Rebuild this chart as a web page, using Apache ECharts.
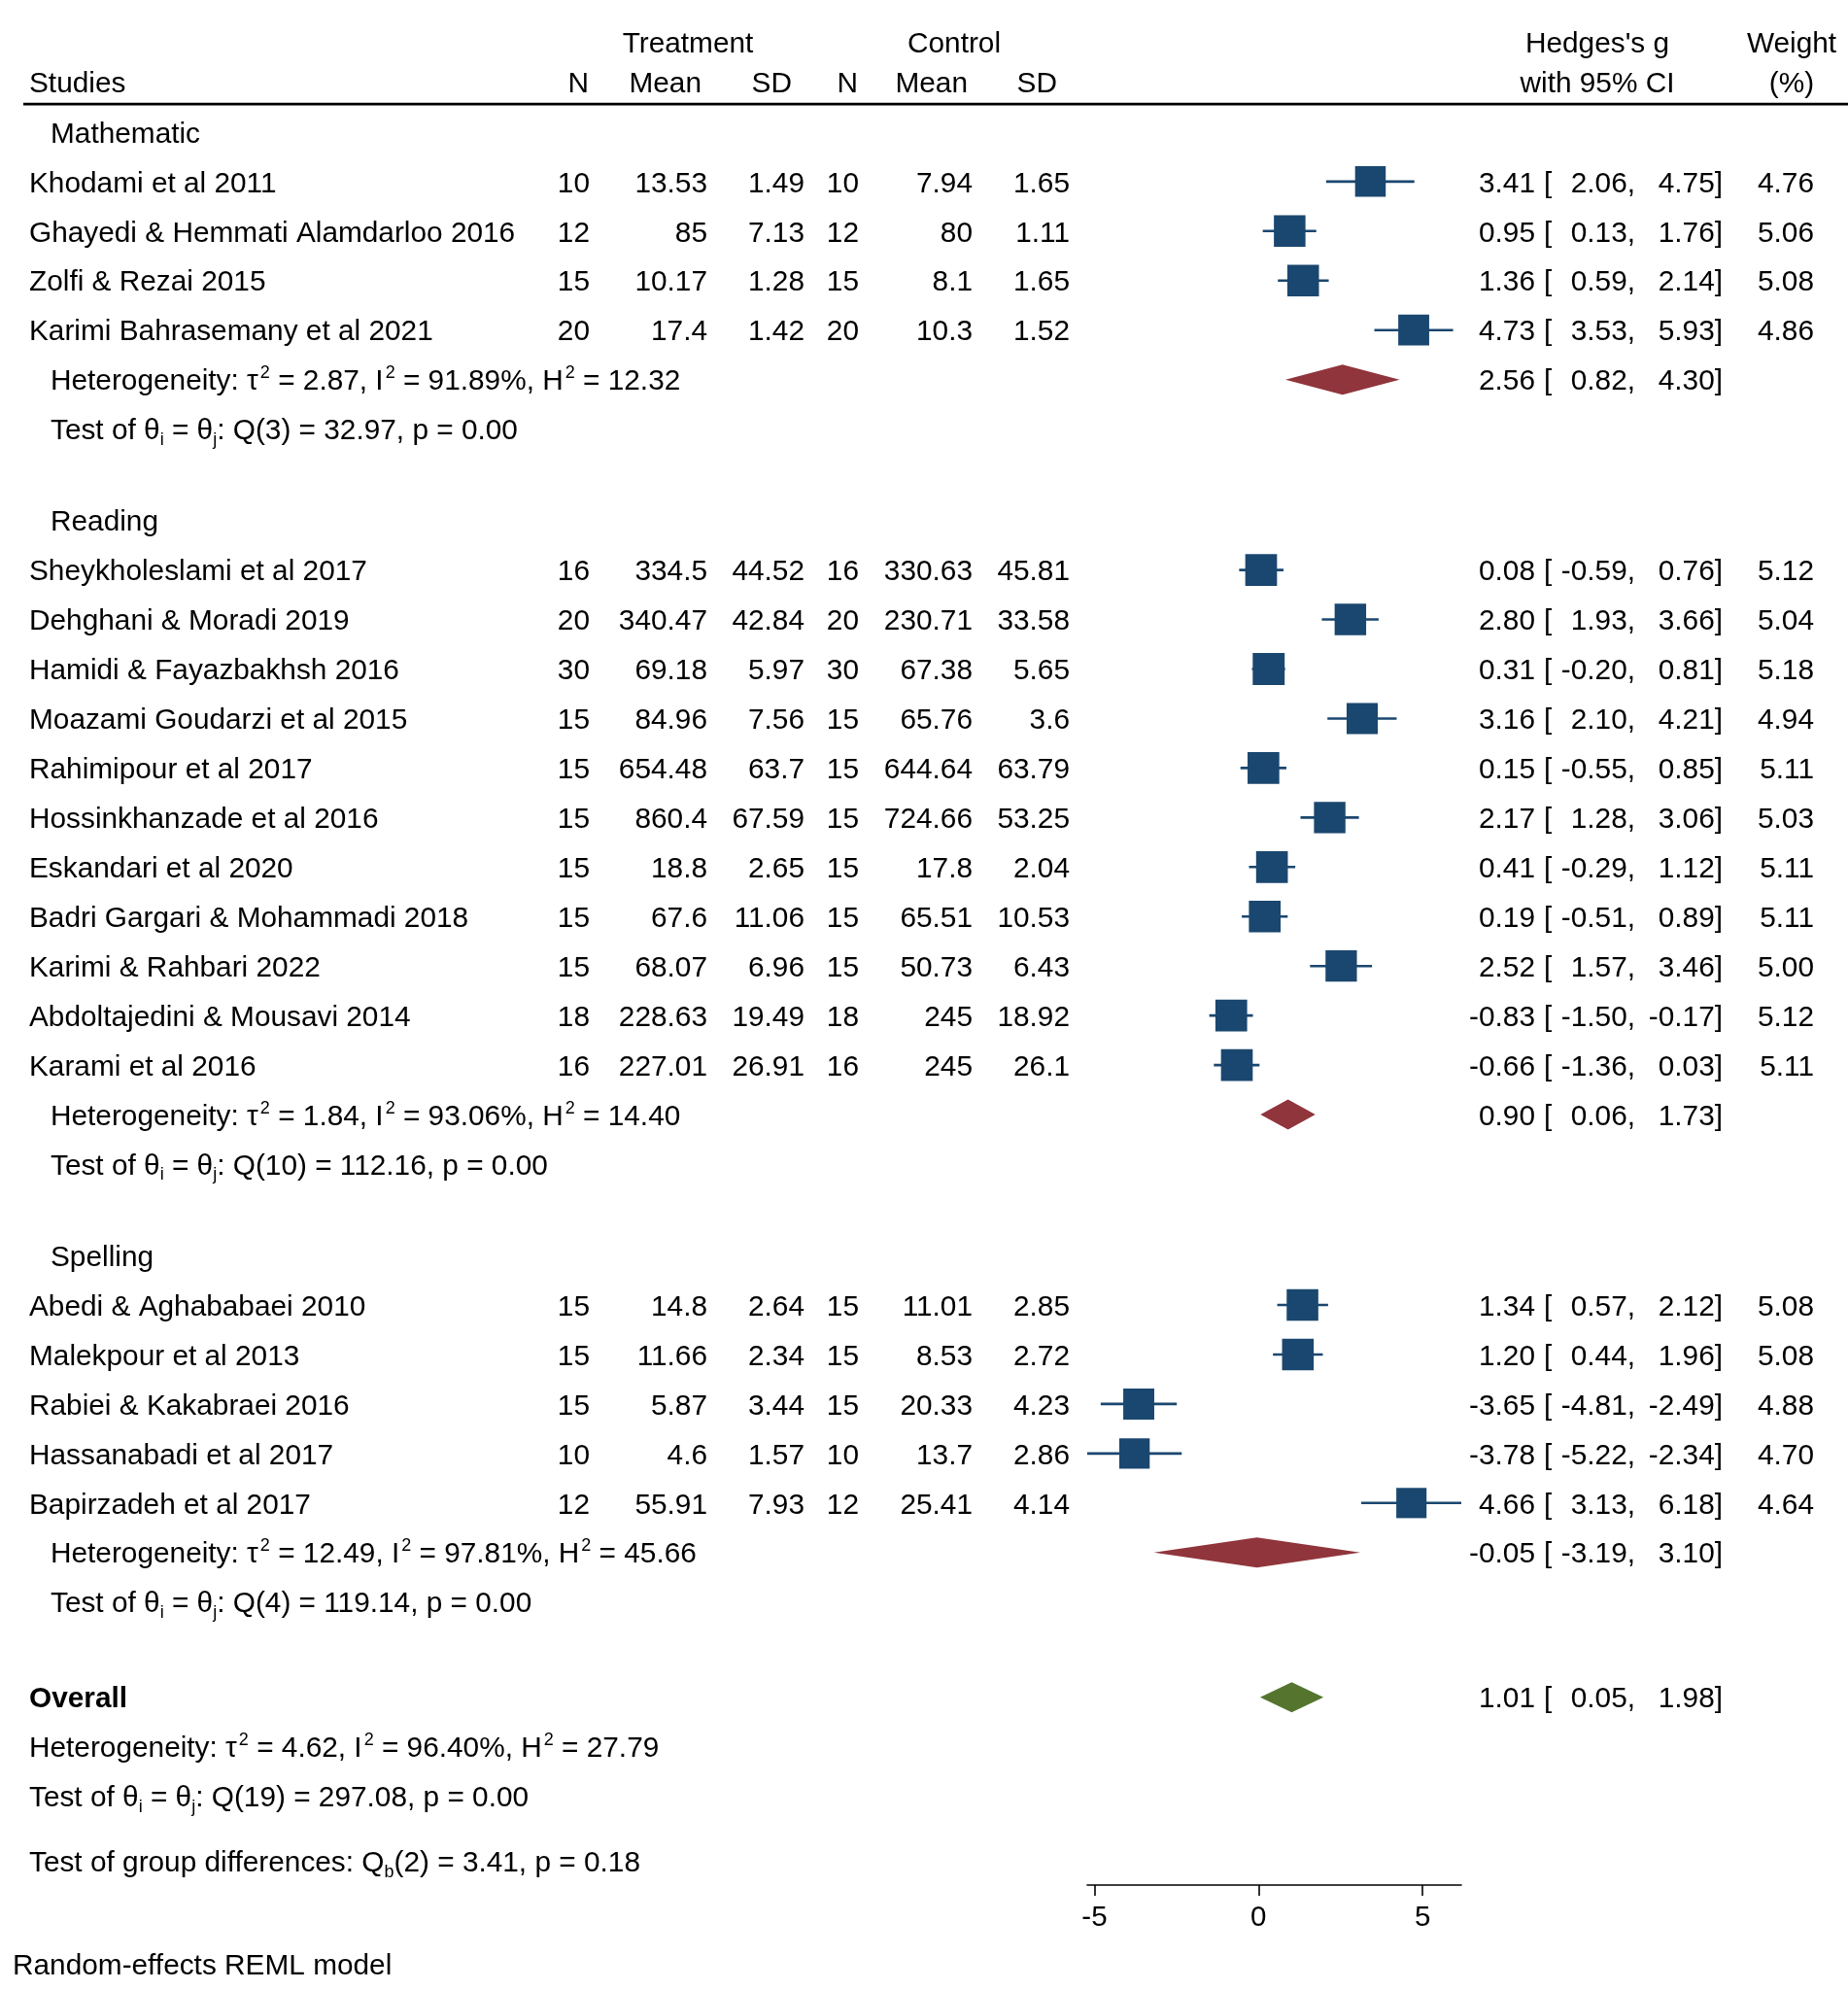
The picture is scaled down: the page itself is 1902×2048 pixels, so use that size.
<!DOCTYPE html>
<html><head><meta charset="utf-8">
<script src="https://cdn.jsdelivr.net/npm/echarts@6/dist/echarts.min.js"></script>
<style>html,body{margin:0;padding:0;background:#fff}#c{width:1902px;height:2048px}</style>
</head><body><div id="c"></div>
<script>
// ---------------- data ----------------
const groupNames = ['Mathematic', 'Reading', 'Spelling'];
const studies = [
  'Khodami et al 2011', 'Ghayedi & Hemmati Alamdarloo 2016', 'Zolfi & Rezai 2015', 'Karimi Bahrasemany et al 2021',
  'Sheykholeslami et al 2017', 'Dehghani & Moradi 2019', 'Hamidi & Fayazbakhsh 2016', 'Moazami Goudarzi et al 2015',
  'Rahimipour et al 2017', 'Hossinkhanzade et al 2016', 'Eskandari et al 2020', 'Badri Gargari & Mohammadi 2018',
  'Karimi & Rahbari 2022', 'Abdoltajedini & Mousavi 2014', 'Karami et al 2016',
  'Abedi & Aghababaei 2010', 'Malekpour et al 2013', 'Rabiei & Kakabraei 2016', 'Hassanabadi et al 2017', 'Bapirzadeh et al 2017'
];
const studyGroup = [0,0,0,0, 1,1,1,1,1,1,1,1,1,1,1, 2,2,2,2,2];
const tN    = [10, 12, 15, 20, 16, 20, 30, 15, 15, 15, 15, 15, 15, 18, 16, 15, 15, 15, 10, 12];
const tMean = [13.53, 85, 10.17, 17.4, 334.5, 340.47, 69.18, 84.96, 654.48, 860.4, 18.8, 67.6, 68.07, 228.63, 227.01, 14.8, 11.66, 5.87, 4.6, 55.91];
const tSD   = [1.49, 7.13, 1.28, 1.42, 44.52, 42.84, 5.97, 7.56, 63.7, 67.59, 2.65, 11.06, 6.96, 19.49, 26.91, 2.64, 2.34, 3.44, 1.57, 7.93];
const cN    = [10, 12, 15, 20, 16, 20, 30, 15, 15, 15, 15, 15, 15, 18, 16, 15, 15, 15, 10, 12];
const cMean = [7.94, 80, 8.1, 10.3, 330.63, 230.71, 67.38, 65.76, 644.64, 724.66, 17.8, 65.51, 50.73, 245, 245, 11.01, 8.53, 20.33, 13.7, 25.41];
const cSD   = [1.65, 1.11, 1.65, 1.52, 45.81, 33.58, 5.65, 3.6, 63.79, 53.25, 2.04, 10.53, 6.43, 18.92, 26.1, 2.85, 2.72, 4.23, 2.86, 4.14];
const hedgesG = [3.41, 0.95, 1.36, 4.73, 0.08, 2.80, 0.31, 3.16, 0.15, 2.17, 0.41, 0.19, 2.52, -0.83, -0.66, 1.34, 1.20, -3.65, -3.78, 4.66];
const ciLo    = [2.06, 0.13, 0.59, 3.53, -0.59, 1.93, -0.20, 2.10, -0.55, 1.28, -0.29, -0.51, 1.57, -1.50, -1.36, 0.57, 0.44, -4.81, -5.22, 3.13];
const ciHi    = [4.75, 1.76, 2.14, 5.93, 0.76, 3.66, 0.81, 4.21, 0.85, 3.06, 1.12, 0.89, 3.46, -0.17, 0.03, 2.12, 1.96, -2.49, -2.34, 6.18];
const weight  = [4.76, 5.06, 5.08, 4.86, 5.12, 5.04, 5.18, 4.94, 5.11, 5.03, 5.11, 5.11, 5.00, 5.12, 5.11, 5.08, 5.08, 4.88, 4.70, 4.64];

const groupG   = [2.56, 0.90, -0.05];
const groupLo  = [0.82, 0.06, -3.19];
const groupHi  = [4.30, 1.73, 3.10];
const groupTau2 = [2.87, 1.84, 12.49];
const groupI2   = [91.89, 93.06, 97.81];
const groupH2   = [12.32, 14.40, 45.66];
const groupQdf  = [3, 10, 4];
const groupQ    = [32.97, 112.16, 119.14];
const groupP    = [0.00, 0.00, 0.00];

const overallG = 1.01, overallLo = 0.05, overallHi = 1.98;
const overallTau2 = 4.62, overallI2 = 96.40, overallH2 = 27.79;
const overallQdf = 19, overallQ = 297.08, overallP = 0.00;
const diffQdf = 2, diffQ = 3.41, diffP = 0.18;
const axisTicks = [-5, 0, 5];

// ---------------- layout ----------------
const FONT = "'Liberation Sans', Arial, Helvetica, sans-serif";
const FS = 29.8;
const TEXT_DY = 2.5;
const NAVY = '#1a476f', MAROON = '#90353b', GREEN = '#55752f';
const X = {name: 30, indent: 52, tN: 607, tMean: 728, tSD: 828, cN: 884, cMean: 1001, cSD: 1101,
           est: 1580, brk: 1589, lo: 1683, hi: 1773, wt: 1867};
const f2 = n => n.toFixed(2);

const items = [];
const studyRows = [];
const groupRows = [];
const overallRows = [];
function txt(v, x, text, align, extra) { items.push(Object.assign({v, x, text, align: align || 'left'}, extra || {})); }
function estTexts(v, est, lo, hi, w) {
  txt(v, X.est, f2(est), 'right');
  txt(v, X.brk, '[', 'left');
  txt(v, X.lo, f2(lo) + ',', 'right');
  txt(v, X.hi, f2(hi) + ']', 'right');
  if (w != null) txt(v, X.wt, f2(w), 'right');
}
const hetText = (t, i, h) => 'Heterogeneity: τ{sup|2} = ' + f2(t) + ', I{sup|2} = ' + f2(i) + '%, H{sup|2} = ' + f2(h);
const testText = (df, q, p) => 'Test of θ{sub|i} = θ{sub|j}: Q(' + df + ') = ' + f2(q) + ', p = ' + f2(p);

// header
txt(-1.82, 708, 'Treatment', 'center');
txt(-1.82, 982, 'Control', 'center');
txt(-1.82, 1644, "Hedges's g", 'center');
txt(-1.82, 1844, 'Weight', 'center');
txt(-1.02, X.name, 'Studies', 'left');
txt(-1.02, 606, 'N', 'right');
txt(-1.02, 722, 'Mean', 'right');
txt(-1.02, 815, 'SD', 'right');
txt(-1.02, 883, 'N', 'right');
txt(-1.02, 996, 'Mean', 'right');
txt(-1.02, 1088, 'SD', 'right');
txt(-1.02, 1644, 'with 95% CI', 'center');
txt(-1.02, 1844, '(%)', 'center');
items.push({v: -0.565, rule: true});

let v = 0;
groupNames.forEach((gn, gi) => {
  if (gi > 0) v += 72 / 39;
  txt(v, X.indent, gn);
  studies.forEach((s, i) => {
    if (studyGroup[i] !== gi) return;
    v += 1;
    studyRows.push([hedgesG[i], v, ciLo[i], ciHi[i], weight[i]]);
    txt(v, X.name, s);
    txt(v, X.tN, String(tN[i]), 'right');
    txt(v, X.tMean, String(tMean[i]), 'right');
    txt(v, X.tSD, String(tSD[i]), 'right');
    txt(v, X.cN, String(cN[i]), 'right');
    txt(v, X.cMean, String(cMean[i]), 'right');
    txt(v, X.cSD, String(cSD[i]), 'right');
    estTexts(v, hedgesG[i], ciLo[i], ciHi[i], weight[i]);
  });
  v += 1;
  groupRows.push([groupG[gi], v, groupLo[gi], groupHi[gi]]);
  txt(v, X.indent, hetText(groupTau2[gi], groupI2[gi], groupH2[gi]));
  estTexts(v, groupG[gi], groupLo[gi], groupHi[gi], null);
  v += 1;
  txt(v, X.indent, testText(groupQdf[gi], groupQ[gi], groupP[gi]));
});
v += 75 / 39;
overallRows.push([overallG, v, overallLo, overallHi]);
txt(v, X.name, 'Overall', 'left', {bold: true});
estTexts(v, overallG, overallLo, overallHi, null);
v += 1;
txt(v, X.name, hetText(overallTau2, overallI2, overallH2));
v += 1;
txt(v, X.name, testText(overallQdf, overallQ, overallP));
v += 51 / 39;
txt(v, X.name, 'Test of group differences: Q{sub|b}(' + diffQdf + ') = ' + f2(diffQ) + ', p = ' + f2(diffP));
txt(37.0, 13, 'Random-effects REML model');

const Y_MAX = 35.41;
const UNIT = 50.95;
const GRID_TOP = 135.9;

const chart = echarts.init(document.getElementById('c'), null, {renderer: 'canvas'});

function diamondRender(color) {
  return function (params, api) {
    const c = api.coord([api.value(0), api.value(1)]);
    const l = api.coord([api.value(2), api.value(1)]);
    const h = api.coord([api.value(3), api.value(1)]);
    const hh = 15.5;
    return {type: 'polygon', shape: {points: [[l[0], c[1]], [c[0], c[1] - hh], [h[0], c[1]], [c[0], c[1] + hh]]},
      style: {fill: color}};
  };
}

chart.setOption({
  animation: false,
  backgroundColor: '#fff',
  grid: {left: 1119, top: GRID_TOP, width: 385, height: Y_MAX * UNIT, containLabel: false, outerBoundsMode: 'none'},
  xAxis: {
    type: 'value', min: Math.min.apply(null, ciLo), max: Math.max.apply(null, ciHi), position: 'bottom',
    axisLine: {show: true, onZero: false, lineStyle: {color: '#000', width: 1.6}},
    axisTick: {show: true, length: 11, customValues: axisTicks, lineStyle: {color: '#000', width: 1.6}},
    axisLabel: {show: true, customValues: axisTicks, fontSize: 29.5, color: '#000', margin: 19, fontFamily: FONT},
    splitLine: {show: false}
  },
  yAxis: {type: 'value', inverse: true, min: 0, max: Y_MAX, show: false, splitLine: {show: false}},
  series: [
    {
      type: 'custom', name: 'studies', data: studyRows, clip: false,
      renderItem: function (params, api) {
        const g = api.value(0), vv = api.value(1), lo = api.value(2), hi = api.value(3), w = api.value(4);
        const c = api.coord([g, vv]);
        const l = api.coord([lo, vv]);
        const h = api.coord([hi, vv]);
        const s = 32.3 * Math.sqrt(w / 5);
        return {type: 'group', children: [
          {type: 'line', shape: {x1: l[0], y1: c[1], x2: h[0], y2: c[1]}, style: {stroke: NAVY, lineWidth: 2.6}},
          {type: 'rect', shape: {x: c[0] - s / 2, y: c[1] - s / 2, width: s, height: s}, style: {fill: NAVY}}
        ]};
      }
    },
    {type: 'custom', name: 'groups', data: groupRows, clip: false, renderItem: diamondRender(MAROON)},
    {type: 'custom', name: 'overall', data: overallRows, clip: false, renderItem: diamondRender(GREEN)},
    {
      type: 'custom', name: 'text', clip: false, silent: true,
      data: items.map(t => [0, t.v]),
      renderItem: function (params, api) {
        const t = items[params.dataIndex];
        const y = api.coord([0, t.v])[1];
        if (t.rule) {
          return {type: 'line', shape: {x1: 24, y1: y, x2: 1902, y2: y}, style: {stroke: '#000', lineWidth: 2.6}};
        }
        return {type: 'text', x: t.x, y: y + TEXT_DY, style: {
          text: t.text, fill: '#000', fontSize: FS, fontFamily: FONT, fontWeight: t.bold ? 'bold' : 'normal',
          align: t.align, verticalAlign: 'middle', textAlign: t.align, textVerticalAlign: 'middle',
          lineHeight: 36,
          rich: {
            sup: {fontSize: 18, fontFamily: FONT, fill: '#000', verticalAlign: 'top', lineHeight: 16, padding: [0, 0, 0, 2]},
            sub: {fontSize: 18, fontFamily: FONT, fill: '#000', verticalAlign: 'bottom', lineHeight: 18}
          }
        }};
      }
    }
  ]
});
</script>
</body></html>
